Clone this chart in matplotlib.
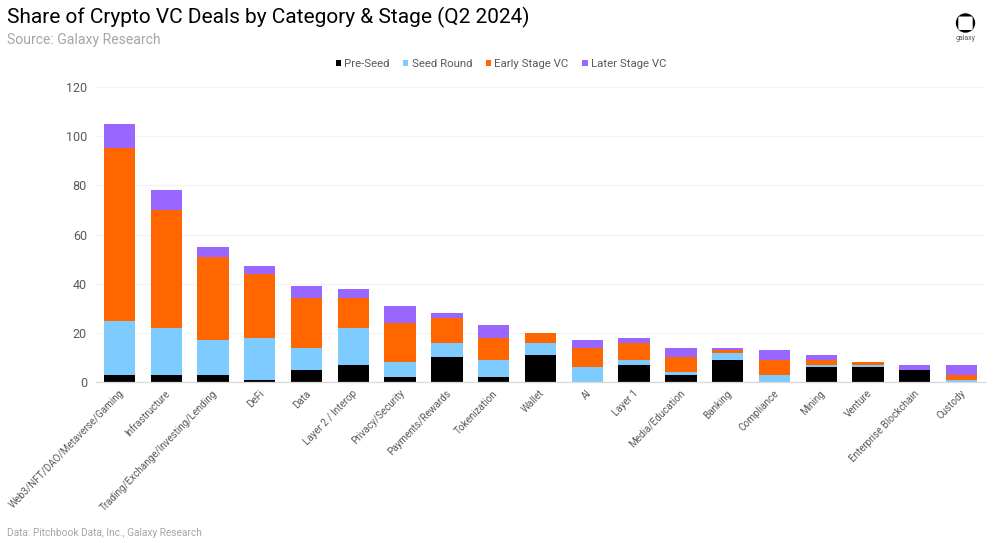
import matplotlib
matplotlib.use("Agg")
import matplotlib.pyplot as plt
from matplotlib.patches import Circle, FancyBboxPatch
from matplotlib.transforms import ScaledTranslation
import numpy as np

categories = ["Web3/NFT/DAO/Metaverse/Gaming", "Infrastructure", "Trading/Exchange/Investing/Lending",
              "DeFi", "Data", "Layer 2 / Interop", "Privacy/Security", "Payments/Rewards", "Tokenization",
              "Wallet", "AI", "Layer 1", "Media/Education", "Banking", "Compliance", "Mining", "Venture",
              "Enterprise Blockchain", "Custody"]
pre_seed = [3, 3, 3, 1, 5, 7, 2, 10, 2, 11, 0, 7, 3, 9, 0, 6, 6, 5, 0]
seed_round = [22, 19, 14, 17, 9, 15, 6, 6, 7, 5, 6, 2, 1, 3, 3, 1, 1, 0, 1]
early_vc = [70, 48, 34, 26, 20, 12, 16, 10, 9, 4, 8, 7, 6, 1, 6, 2, 1, 0, 2]
later_vc = [10, 8, 4, 3, 5, 4, 7, 2, 5, 0, 3, 2, 4, 1, 4, 2, 0, 2, 4]
series = [("Pre-Seed", pre_seed, "#000000"), ("Seed Round", seed_round, "#7DCBFF"),
          ("Early Stage VC", early_vc, "#FF6600"), ("Later Stage VC", later_vc, "#9966FF")]
yticks = [0, 20, 40, 60, 80, 100, 120]

W, H = 994, 543
plt.rcParams["font.family"] = ["Roboto", "DejaVu Sans"]
fig = plt.figure(figsize=(W / 100, H / 100), dpi=100, facecolor="white")
ax = fig.add_axes([96 / W, 1 - 382 / H, 889 / W, 295 / H])

x = np.arange(len(categories))
bottom = np.zeros(len(categories))
handles = []
for name, vals, color in series:
    b = ax.bar(x, vals, 0.67, bottom=bottom, color=color, label=name, linewidth=0)
    bottom += np.array(vals)
    handles.append(b)

ax.set_xlim(-0.5, len(categories) - 0.5)
ax.set_ylim(0, 120)
ax.set_yticks(yticks)
ax.set_yticklabels([str(v) for v in yticks], fontsize=9, color="#595959")
ax.set_xticks(x)
ax.set_xticklabels(categories, rotation=46, ha="right", va="center", rotation_mode="anchor",
                   fontsize=7.1, color="#595959")
ax.tick_params(axis="both", length=0)
ax.tick_params(axis="x", pad=7)
ax.tick_params(axis="y", pad=6.5)
shift = ScaledTranslation(2.5 / 100, 0, fig.dpi_scale_trans)
for lab in ax.get_xticklabels():
    lab.set_transform(lab.get_transform() + shift)
ax.grid(axis="y", color="#F4F4F4", linewidth=0.9)
ax.set_axisbelow(True)
for s in ("top", "right", "left"):
    ax.spines[s].set_visible(False)
ax.spines["bottom"].set_color("#D9D9D9")
ax.spines["bottom"].set_linewidth(0.9)

fig.legend(handles=handles, loc="center", bbox_to_anchor=(501 / W, 1 - 64 / H), ncol=4, frameon=False,
           fontsize=8.2, labelcolor="#595959", handlelength=0.45, handleheight=0.45, handletextpad=0.3,
           columnspacing=1.2)

fig.text(7 / W, 1 - 17 / H, "Share of Crypto VC Deals by Category & Stage (Q2 2024)", fontsize=15.05,
         color="#000000", va="center", ha="left")
fig.text(7 / W, 1 - 40 / H, "Source: Galaxy Research", fontsize=10.1, color="#A6A6A6", va="center", ha="left")
fig.text(7 / W, 1 - 533 / H, "Data: Pitchbook Data, Inc., Galaxy Research", fontsize=7.3, color="#A6A6A6",
         va="center", ha="left")

# Logo
logo = fig.add_axes([0, 0, 1, 1], facecolor="none")
logo.set_xlim(0, W)
logo.set_ylim(H, 0)
logo.axis("off")
logo.add_patch(Circle((965.5, 23), 9.7, facecolor="black", edgecolor="none"))
logo.add_patch(FancyBboxPatch((958.3, 16.5), 14.4, 13.5, boxstyle="round,pad=0,rounding_size=1.5",
                              facecolor="white", edgecolor="none"))
logo.text(965.5, 39, "galaxy", fontsize=5, color="#595959", ha="center", va="center")

fig.savefig("out.png", dpi=100, facecolor="white")
